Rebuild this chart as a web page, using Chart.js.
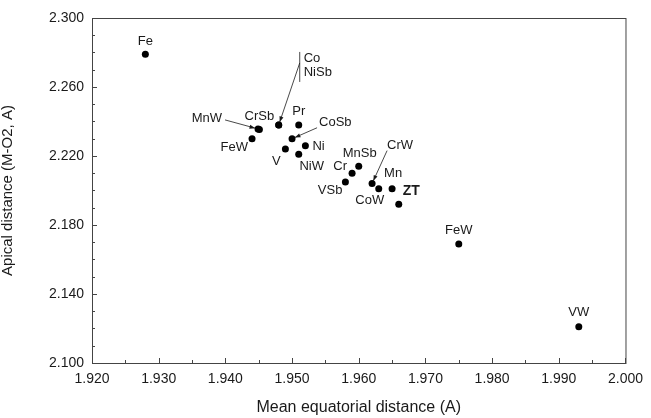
<!DOCTYPE html>
<html>
<head>
<meta charset="utf-8">
<script src="https://cdn.jsdelivr.net/npm/chart.js@4.4.1/dist/chart.umd.min.js"></script>
<style>
  html, body { margin: 0; padding: 0; background: #fff; }
  #wrap { width: 651px; height: 418px; position: relative; }
</style>
</head>
<body>
<div id="wrap"><canvas id="chart"></canvas></div>
<script>
// data
const compounds = ['Fe', 'MnW', 'CrSb', 'Co', 'NiSb', 'Pr', 'CoSb', 'FeW', 'V', 'Ni', 'NiW',
  'MnSb', 'Cr', 'VSb', 'CrW', 'CoW', 'Mn', 'ZT', 'FeW', 'VW'];
const meanEquatorial = [1.928, 1.9449, 1.9451, 1.948, 1.948, 1.951, 1.950, 1.944, 1.949, 1.952, 1.951,
  1.960, 1.959, 1.958, 1.962, 1.963, 1.965, 1.966, 1.975, 1.993];
const apicalDist = [2.279, 2.2357, 2.2354, 2.238, 2.238, 2.238, 2.230, 2.230, 2.224, 2.226, 2.221,
  2.214, 2.210, 2.205, 2.204, 2.201, 2.201, 2.192, 2.169, 2.121];
const xTickValues = [1.92, 1.93, 1.94, 1.95, 1.96, 1.97, 1.98, 1.99, 2.00];
const yTickValues = [2.10, 2.14, 2.18, 2.22, 2.26, 2.30];

const INK = '#1a1a1a';
const FONT = "'Liberation Sans', Arial, sans-serif";

// label placement (pixel offsets from each point), keyed by compound index
const labelStyle = {
  0:  { dx: 0,   dy: -13, align: 'center' },
  1:  { dx: -36, dy: -10, align: 'right', arrow: [-33, -9] },
  2:  { dx: 0,   dy: -13, align: 'center' },
  3:  { dx: 25,  dy: -67, align: 'left', arrow: [21, -62], bracket: [21, -73, -43] },
  4:  { dx: 25,  dy: -53, align: 'left' },
  5:  { dx: 0,   dy: -14, align: 'center' },
  6:  { dx: 27,  dy: -16, align: 'left', arrow: [25, -11] },
  7:  { dx: -4,  dy: 9,   align: 'right' },
  8:  { dx: -9,  dy: 12,  align: 'center' },
  9:  { dx: 7,   dy: 1,   align: 'left' },
  10: { dx: 13,  dy: 12,  align: 'center' },
  11: { dx: 1,   dy: -13, align: 'center' },
  12: { dx: -5,  dy: -7,  align: 'right' },
  13: { dx: -3,  dy: 9,   align: 'right' },
  14: { dx: 15,  dy: -38, align: 'left', arrow: [15, -33] },
  15: { dx: -9,  dy: 12,  align: 'center' },
  16: { dx: 1,   dy: -15, align: 'center' },
  17: { dx: 4,   dy: -13, align: 'left', bold: true },
  18: { dx: 0,   dy: -14, align: 'center' },
  19: { dx: 0,   dy: -14, align: 'center' }
};

const framePlugin = {
  id: 'frame',
  afterDraw(chart) {
    const { ctx, chartArea: a, scales } = chart;
    ctx.save();
    ctx.strokeStyle = '#444';
    ctx.lineWidth = 1;
    ctx.strokeRect(a.left + 0.5, a.top + 0.5, a.right - a.left, a.bottom - a.top);
    ctx.beginPath();
    // x ticks inward: major every 0.010, minor at 0.005
    for (let v = 0; v <= 16; v++) {
      const val = 1.92 + v * 0.005;
      const px = Math.round(scales.x.getPixelForValue(val)) + 0.5;
      const len = v % 2 === 0 ? 5 : 3;
      ctx.moveTo(px, a.bottom);
      ctx.lineTo(px, a.bottom - len);
    }
    // y ticks inward: major every 0.040, minor every 0.010
    for (let v = 0; v <= 20; v++) {
      const val = 2.10 + v * 0.01;
      const py = Math.round(scales.y.getPixelForValue(val)) + 0.5;
      const len = v % 4 === 0 ? 5 : 3;
      ctx.moveTo(a.left, py);
      ctx.lineTo(a.left + len, py);
    }
    ctx.stroke();
    ctx.restore();
  }
};

const arrowTo = (ctx, x0, y0, x1, y1) => {
  const ang = Math.atan2(y1 - y0, x1 - x0);
  const ex = x1 - Math.cos(ang) * 3, ey = y1 - Math.sin(ang) * 3;
  ctx.beginPath();
  ctx.moveTo(x0, y0);
  ctx.lineTo(ex, ey);
  ctx.stroke();
  ctx.beginPath();
  ctx.moveTo(ex, ey);
  ctx.lineTo(ex - Math.cos(ang - 0.35) * 6, ey - Math.sin(ang - 0.35) * 6);
  ctx.lineTo(ex - Math.cos(ang + 0.35) * 6, ey - Math.sin(ang + 0.35) * 6);
  ctx.closePath();
  ctx.fill();
};

const labelPlugin = {
  id: 'pointLabels',
  afterDatasetsDraw(chart) {
    const { ctx } = chart;
    const pts = chart.getDatasetMeta(0).data;
    ctx.save();
    ctx.fillStyle = INK;
    ctx.strokeStyle = INK;
    ctx.lineWidth = 0.8;
    ctx.textBaseline = 'middle';
    compounds.forEach((name, i) => {
      const st = labelStyle[i];
      const p = pts[i];
      ctx.font = (st.bold ? 'bold 14px ' : '13px ') + FONT;
      ctx.textAlign = st.align;
      ctx.fillText(name, p.x + st.dx, p.y + st.dy);
      if (st.arrow) arrowTo(ctx, p.x + st.arrow[0], p.y + st.arrow[1], p.x, p.y);
      if (st.bracket) {
        ctx.beginPath();
        ctx.moveTo(p.x + st.bracket[0], p.y + st.bracket[1]);
        ctx.lineTo(p.x + st.bracket[0], p.y + st.bracket[2]);
        ctx.stroke();
      }
    });
    ctx.restore();
  }
};

Chart.defaults.font.family = FONT;
Chart.defaults.color = INK;

new Chart(document.getElementById('chart'), {
  type: 'scatter',
  data: {
    datasets: [{
      data: meanEquatorial.map((x, i) => ({ x, y: apicalDist[i] })),
      backgroundColor: '#000', borderWidth: 0, pointRadius: 3.5
    }]
  },
  options: {
    responsive: true, maintainAspectRatio: false, animation: false,
    layout: { padding: { top: 18, right: 24, left: 0, bottom: 0 } },
    plugins: { legend: { display: false }, tooltip: { enabled: false } },
    scales: {
      x: {
        type: 'linear', min: 1.92, max: 2.00,
        afterBuildTicks: s => { s.ticks = xTickValues.map(v => ({ value: v })); },
        afterFit: s => { s.height = 55; },
        grid: { display: false, drawTicks: false }, border: { display: false },
        ticks: { padding: 8, color: INK, font: { size: 14 }, maxRotation: 0, autoSkip: false,
          callback: v => Number(v).toFixed(3) },
        title: { display: true, text: 'Mean equatorial distance (A)', color: INK,
          font: { size: 16 }, padding: { top: 0, bottom: 1 } }
      },
      y: {
        type: 'linear', min: 2.10, max: 2.30,
        afterBuildTicks: s => { s.ticks = yTickValues.map(v => ({ value: v })); },
        afterFit: s => { s.width = 92; },
        grid: { display: false, drawTicks: false }, border: { display: false },
        ticks: { padding: 8, color: INK, font: { size: 14 }, autoSkip: false,
          callback: v => Number(v).toFixed(3) },
        title: { display: true, text: 'Apical distance (M-O2, A)', color: INK,
          font: { size: 15, lineHeight: 1 }, padding: { top: 0, bottom: 0 } }
      }
    }
  },
  plugins: [framePlugin, labelPlugin]
});
</script>
</body>
</html>
